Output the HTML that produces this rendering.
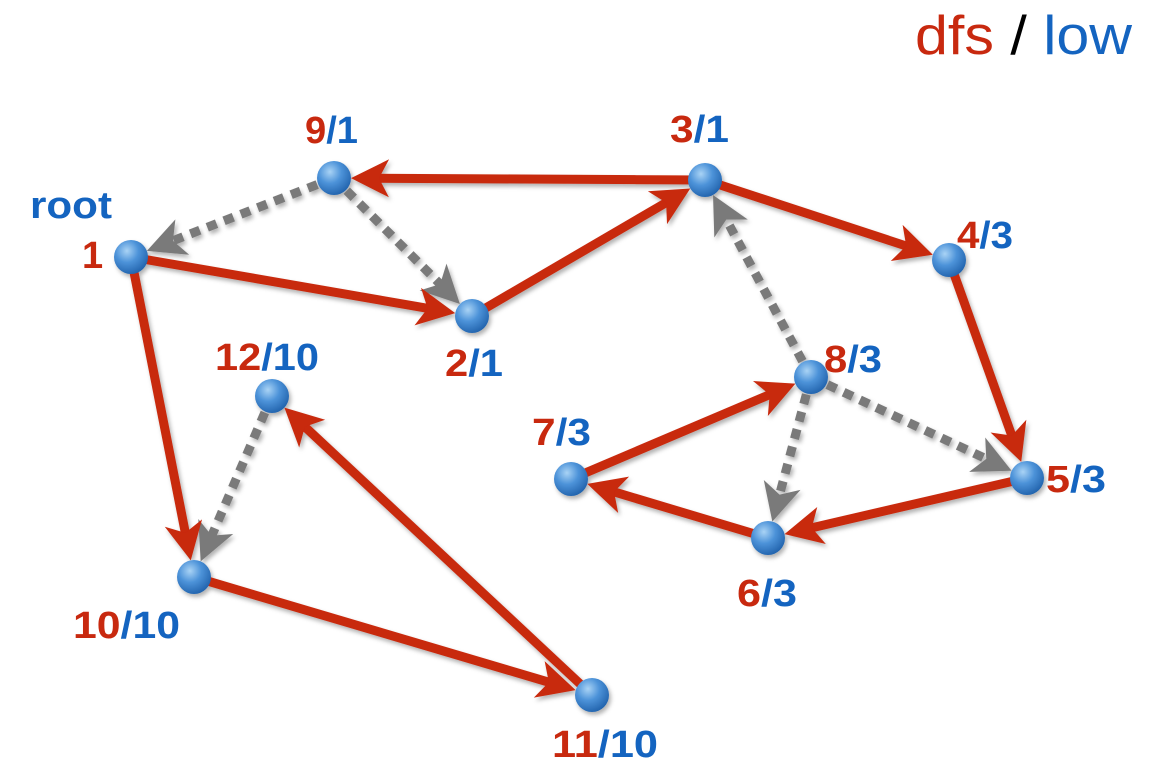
<!DOCTYPE html>
<html><head><meta charset="utf-8"><style>
html,body{margin:0;padding:0;background:#fff;}
svg{display:block;}
text{font-family:"Liberation Sans",Arial,sans-serif;}
.l{font-weight:bold;font-size:38px;}
.r{fill:#c8290f;}
.b{fill:#1464c0;}
</style></head><body>
<svg width="1158" height="777" viewBox="0 0 1158 777" xmlns="http://www.w3.org/2000/svg">
<defs>
<radialGradient id="g" cx="0.38" cy="0.32" r="0.75">
<stop offset="0" stop-color="#a9d3f5"/><stop offset="0.45" stop-color="#4d93d9"/><stop offset="1" stop-color="#1d5ea8"/>
</radialGradient>
<filter id="sh" x="-20%" y="-20%" width="140%" height="140%"><feDropShadow dx="2" dy="3" stdDeviation="2" flood-color="#000" flood-opacity="0.3"/></filter>
<marker id="ar" markerUnits="userSpaceOnUse" markerWidth="70" markerHeight="70" viewBox="-35 -35 70 70" refX="0" refY="0" orient="auto">
<path d="M20,0 L-18,-19 L-8,0 L-18,19 Z" fill="#c8290f"/></marker>
<marker id="ag" markerUnits="userSpaceOnUse" markerWidth="70" markerHeight="70" viewBox="-35 -35 70 70" refX="0" refY="0" orient="auto">
<path d="M20,0 L-18,-19 L-8,0 L-18,19 Z" fill="#7a7a7a"/></marker>
</defs>
<g filter="url(#sh)">
<g stroke="#7a7a7a" stroke-width="9" stroke-dasharray="10 8" fill="none" marker-end="url(#ag)">
<line x1="334" y1="178" x2="165.5" y2="243.6"/>
<line x1="334" y1="178" x2="445.8" y2="289.8"/>
<line x1="811" y1="377" x2="722.5" y2="212.6"/>
<line x1="811" y1="377" x2="777.5" y2="502.3"/>
<line x1="811" y1="377" x2="993.5" y2="462.3"/>
<line x1="272" y1="396" x2="208.6" y2="543"/>
</g>
<g stroke="#c8290f" stroke-width="9" fill="none" marker-end="url(#ar)">
<line x1="705" y1="180" x2="371" y2="178.2"/>
<line x1="131" y1="257" x2="435.5" y2="309.7"/>
<line x1="472" y1="316" x2="673" y2="198.6"/>
<line x1="705" y1="180" x2="913.8" y2="248.5"/>
<line x1="949" y1="260" x2="1014.5" y2="443.1"/>
<line x1="1027" y1="478" x2="804" y2="529.6"/>
<line x1="768" y1="538" x2="606.4" y2="489.6"/>
<line x1="571" y1="479" x2="777" y2="391.5"/>
<line x1="131" y1="257" x2="186.9" y2="540.7"/>
<line x1="194" y1="577" x2="556.5" y2="684.5"/>
<line x1="592" y1="695" x2="299" y2="421.3"/>
</g>
<g fill="url(#g)">
<circle cx="131" cy="257" r="17"/><circle cx="334" cy="178" r="17"/>
<circle cx="705" cy="180" r="17"/><circle cx="472" cy="316" r="17"/>
<circle cx="949" cy="260" r="17"/><circle cx="811" cy="377" r="17"/>
<circle cx="1027" cy="478" r="17"/><circle cx="571" cy="479" r="17"/>
<circle cx="768" cy="538" r="17"/><circle cx="272" cy="396" r="17"/>
<circle cx="194" cy="577" r="17"/><circle cx="592" cy="695" r="17"/>
</g>
</g>
<text x="915" y="54" font-size="55" textLength="217" lengthAdjust="spacingAndGlyphs"><tspan class="r">dfs</tspan><tspan fill="#000"> / </tspan><tspan class="b">low</tspan></text>
<text class="l b" x="30" y="218" font-size="37" textLength="82" lengthAdjust="spacingAndGlyphs">root</text>
<text class="l r" x="82" y="268">1</text>
<text class="l" x="305" y="143" textLength="53" lengthAdjust="spacingAndGlyphs"><tspan class="r">9</tspan><tspan class="b">/1</tspan></text>
<text class="l" x="670" y="142" textLength="59" lengthAdjust="spacingAndGlyphs"><tspan class="r">3</tspan><tspan class="b">/1</tspan></text>
<text class="l" x="957" y="248" textLength="56" lengthAdjust="spacingAndGlyphs"><tspan class="r">4</tspan><tspan class="b">/3</tspan></text>
<text class="l" x="445" y="376" textLength="58" lengthAdjust="spacingAndGlyphs"><tspan class="r">2</tspan><tspan class="b">/1</tspan></text>
<text class="l" x="215" y="370" textLength="104" lengthAdjust="spacingAndGlyphs"><tspan class="r">12</tspan><tspan class="b">/10</tspan></text>
<text class="l" x="824" y="372" textLength="58" lengthAdjust="spacingAndGlyphs"><tspan class="r">8</tspan><tspan class="b">/3</tspan></text>
<text class="l" x="532" y="445" textLength="59" lengthAdjust="spacingAndGlyphs"><tspan class="r">7</tspan><tspan class="b">/3</tspan></text>
<text class="l" x="1046" y="492" textLength="60" lengthAdjust="spacingAndGlyphs"><tspan class="r">5</tspan><tspan class="b">/3</tspan></text>
<text class="l" x="737" y="606" textLength="60" lengthAdjust="spacingAndGlyphs"><tspan class="r">6</tspan><tspan class="b">/3</tspan></text>
<text class="l" x="73" y="638" textLength="107" lengthAdjust="spacingAndGlyphs"><tspan class="r">10</tspan><tspan class="b">/10</tspan></text>
<text class="l" x="552" y="757" textLength="106" lengthAdjust="spacingAndGlyphs"><tspan class="r">11</tspan><tspan class="b">/10</tspan></text>
</svg>
</body></html>
